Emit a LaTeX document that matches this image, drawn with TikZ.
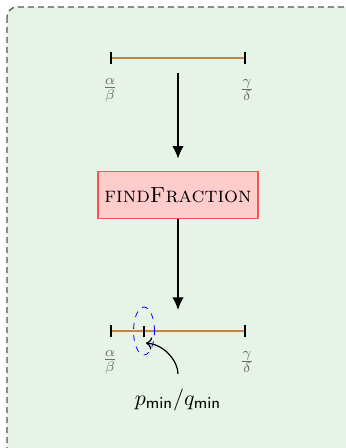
\documentclass[tikz,border=0pt]{standalone}
\usepackage{amsmath}
\usetikzlibrary{arrows.meta,positioning,shapes.geometric}
\definecolor{Panel}{HTML}{E6F3E6}
\definecolor{Frame}{HTML}{555555}
\definecolor{Segment}{HTML}{C4843E}
\definecolor{SoftRed}{HTML}{FFCCCC}
\definecolor{Red}{HTML}{FF5252}
\definecolor{Muted}{HTML}{6E6E6E}
\begin{document}
\begin{tikzpicture}[
  x=0.5pt,y=0.5pt,
  panel/.style={draw=Frame,fill=Panel,line width=0.6pt,dash pattern=on 3pt off 2pt,rounded corners=5pt},
  seg/.style={draw=Segment,line width=0.9pt,{Bar[width=6pt,color=black]}-{Bar[width=6pt,color=black]}},
  tickmark/.style={draw=black,line width=0.9pt},
  frac/.style={text=Muted,inner sep=1pt},
  algo/.style={draw=Red,fill=SoftRed,line width=0.8pt,minimum width=80pt,minimum height=23.5pt,align=center,font=\fontsize{10.95}{13}\selectfont},
  window/.style={ellipse,draw=blue,dashed,thin,minimum width=10.5pt,minimum height=24pt,inner sep=0pt},
  flow/.style={-{Latex[length=2.2mm,width=2mm]},thick,draw=black},
  pointer/.style={->,semithick,draw=black}
]
\useasboundingbox (0,0) rectangle (346,-448);
\draw[panel] (7,-7) rectangle (356,-458);
% interval before the search
\coordinate (topL) at (110,-58);
\coordinate (topR) at (246,-58);
\coordinate (topMid) at (178,-58);
\draw[seg] (topL) -- (topR);
\node[frac] (ab1) at (110,-90) {$\frac{\alpha}{\beta}$};
\node[frac] (gd1) at (247,-90) {$\frac{\gamma}{\delta}$};
\node[algo] (find) at (178,-195) {\textsc{findFraction}};
% interval after the search
\coordinate (botL) at (110,-331);
\coordinate (botR) at (246,-331);
\coordinate (botMid) at (178,-331);
\coordinate (minTick) at (144,-331);
\draw[seg] (botL) -- (botR);
\draw[tickmark] (minTick) ++(0,-5.5) -- ++(0,11);
\node[window] (win) at (144,-331) {};
\node[frac] (ab2) at (110,-362) {$\frac{\alpha}{\beta}$};
\node[frac] (gd2) at (247,-362) {$\frac{\gamma}{\delta}$};
\node[font=\fontsize{10.95}{13}\selectfont] (minlbl) at (178,-400) {$p_{\mathsf{min}}/q_{\mathsf{min}}$};
\coordinate (hit) at (146,-343);
\draw[flow,shorten <=7.5pt,shorten >=6pt] (topMid) -- (find);
\draw[flow,shorten >=10.5pt] (find) -- (botMid);
\draw[pointer,shorten <=4pt] (minlbl.north) to[out=90,in=-5] (hit);
\end{tikzpicture}
\end{document}
